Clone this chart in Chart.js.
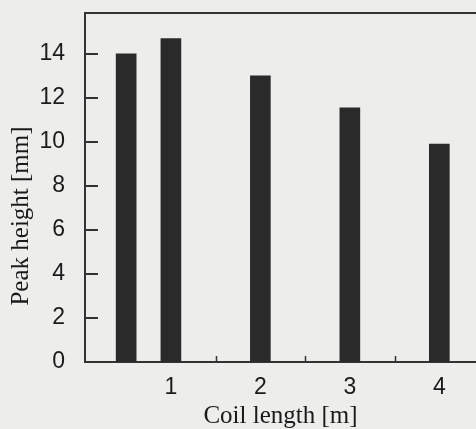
<!DOCTYPE html>
<html><head><meta charset="utf-8">
<script src="https://cdn.jsdelivr.net/npm/chart.js@4"></script>
<style>html,body{margin:0;padding:0;background:#ededeb;overflow:hidden}
#wrap{width:476px;height:429px;position:relative}</style>
</head><body><div id="wrap"><canvas id="c" width="476" height="429"></canvas></div>
<script>
const coilLengths = [0.5, 1, 2, 3, 4];
const peakHeights = [14.0, 14.7, 13.0, 11.55, 9.9];
const xTickValues = [1, 2, 3, 4];
const xMinorTicks = [1.5, 2.5, 3.5];
const yTickValues = [0, 2, 4, 6, 8, 10, 12, 14];
const xTitle = 'Coil length [m]';
const yTitle = 'Peak height [mm]';

const frameColor = '#333';
const textColor = '#1a1a1a';
const framePlugin = {
  id: 'frame',
  afterDatasetsDraw(chart) {
    const ctx = chart.ctx, a = chart.chartArea;
    const xs = chart.scales.x, ys = chart.scales.y;
    ctx.save();
    ctx.strokeStyle = frameColor;
    ctx.lineWidth = 2;
    ctx.beginPath();
    ctx.moveTo(a.left - 1, a.top); ctx.lineTo(a.right, a.top);
    ctx.stroke();
    ctx.beginPath();
    yTickValues.forEach(v => {
      const y = Math.round(ys.getPixelForValue(v));
      if (v === 0) return;
      ctx.moveTo(a.left, y); ctx.lineTo(a.left + 13, y);
    });
    ctx.stroke();
    ctx.lineWidth = 1.5;
    ctx.beginPath();
    xMinorTicks.forEach(v => {
      const x = Math.round(xs.getPixelForValue(v)) + 0.5;
      ctx.moveTo(x, a.bottom); ctx.lineTo(x, a.bottom - 6);
    });
    ctx.stroke();
    ctx.fillStyle = textColor;
    ctx.font = '25px "Liberation Serif", "Times New Roman", serif';
    ctx.textAlign = 'center';
    ctx.textBaseline = 'middle';
    ctx.translate(21, 216);
    ctx.rotate(-Math.PI / 2);
    ctx.fillText(yTitle, 0, 0);
    ctx.restore();
  }
};

new Chart(document.getElementById('c'), {
  type: 'bar',
  data: {
    datasets: [{
      data: coilLengths.map((x, i) => ({x: x, y: peakHeights[i]})),
      backgroundColor: '#2a2a2a',
      borderWidth: 0,
      barThickness: 20
    }]
  },
  options: {
    responsive: false,
    animation: false,
    layout: {padding: {top: 13, right: 0, left: 0, bottom: 0}},
    plugins: {legend: {display: false}, tooltip: {enabled: false}},
    scales: {
      x: {
        type: 'linear',
        offset: false,
        min: 0.04, max: 4.41,
        afterBuildTicks: s => { s.ticks = xTickValues.map(v => ({value: v})); },
        afterFit: s => { s.height = 67; s.paddingLeft = 0; s.paddingRight = 0; },
        grid: {display: false},
        border: {display: true, color: frameColor, width: 2},
        ticks: {
          font: {family: '"Liberation Sans", Arial, sans-serif', size: 23},
          color: textColor, padding: 4, maxRotation: 0, autoSkip: false
        },
        title: {
          display: true, text: xTitle, color: textColor,
          font: {family: '"Liberation Serif", "Times New Roman", serif', size: 25},
          padding: {top: 0, bottom: -2}
        }
      },
      y: {
        min: 0, max: 15.86,
        afterBuildTicks: s => { s.ticks = yTickValues.map(v => ({value: v})); },
        afterFit: s => { s.width = 85; s.paddingTop = 0; s.paddingBottom = 0; },
        grid: {display: false},
        border: {display: true, color: frameColor, width: 2},
        ticks: {
          font: {family: '"Liberation Sans", Arial, sans-serif', size: 23},
          color: textColor, padding: 12
        }
      }
    }
  },
  plugins: [framePlugin]
});
</script>
</body></html>
